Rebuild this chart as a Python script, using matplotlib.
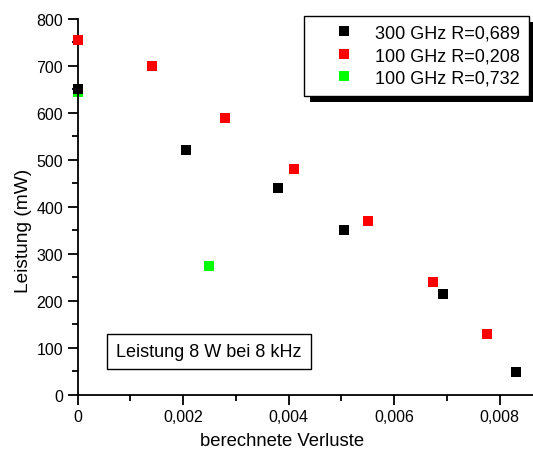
import matplotlib
matplotlib.use('Agg')
import matplotlib.pyplot as plt
from matplotlib.patches import Rectangle
from matplotlib.ticker import MultipleLocator, FuncFormatter

plt.rcParams['font.family'] = ['Liberation Sans', 'DejaVu Sans']

# data
x_300_0689 = [0.0, 0.00205, 0.0038, 0.00505, 0.00693, 0.0083]
y_300_0689 = [650, 520, 440, 350, 215, 48]
x_100_0208 = [0.0, 0.00141, 0.0028, 0.00411, 0.0055, 0.00674, 0.00775]
y_100_0208 = [755, 700, 590, 480, 370, 240, 130]
x_100_0732 = [0.0, 0.00249]
y_100_0732 = [645, 275]
labels = ['300 GHz R=0,689', '100 GHz R=0,208', '100 GHz R=0,732']

fig = plt.figure(figsize=(5.33, 4.52), dpi=100)
ax = fig.add_axes([77.5/533, 56.3/452, 455.5/533, 375.7/452])

ms = 7
ax.plot(x_300_0689, y_300_0689, 's', color='black', ms=ms, mew=0, label=labels[0], clip_on=False, zorder=3)
ax.plot(x_100_0208, y_100_0208, 's', color='red', ms=ms, mew=0, label=labels[1], clip_on=False, zorder=3)
ax.plot(x_100_0732, y_100_0732, 's', color='#00ff00', ms=ms, mew=0, label=labels[2], clip_on=False, zorder=2)

ax.set_xlim(0, 0.00863)
ax.set_ylim(0, 800)
for s in ['top', 'right']:
    ax.spines[s].set_visible(False)
for s in ['left', 'bottom']:
    ax.spines[s].set_linewidth(1.3)

ax.xaxis.set_major_locator(MultipleLocator(0.002))
ax.xaxis.set_minor_locator(MultipleLocator(0.001))
ax.yaxis.set_major_locator(MultipleLocator(100))
ax.yaxis.set_minor_locator(MultipleLocator(50))
ax.xaxis.set_major_formatter(FuncFormatter(lambda v, p: '0' if v == 0 else ('%.3f' % v).replace('.', ',')))
ax.tick_params(which='major', direction='out', length=7, width=1.3, labelsize=11.5)
ax.tick_params(which='minor', direction='out', length=4, width=1.3)

ax.set_xlabel('berechnete Verluste', fontsize=13.3)
ax.set_ylabel('Leistung (mW)', fontsize=13.8)
ax.xaxis.set_label_coords(0.449, -0.098)
ax.yaxis.set_label_coords(-0.100, 0.438)

ax.text(0.00249, 92, 'Leistung 8 W bei 8 kHz', fontsize=13, ha='center', va='center',
        bbox=dict(boxstyle='square,pad=0.5', fc='white', ec='black', lw=1))

leg = ax.legend(loc='upper right', bbox_to_anchor=(529.3/533, 1 - 16.7/452),
                bbox_transform=fig.transFigure, borderaxespad=0, fancybox=False,
                edgecolor='black', framealpha=1, fontsize=13, handletextpad=0.05,
                borderpad=0.5, labelspacing=0.3, markerscale=1.0, handlelength=3.4)
leg.get_frame().set_linewidth(1)
leg.set_zorder(6)

# black drop shadow behind the legend box
fig.canvas.draw()
bb = leg.get_window_extent().transformed(fig.transFigure.inverted())
ax.add_patch(Rectangle((bb.x0 + 6/533, bb.y0 - 6/452), bb.width, bb.height,
                       transform=fig.transFigure, fc='black', ec='none', zorder=5, clip_on=False))

fig.savefig('out.png', dpi=100)
